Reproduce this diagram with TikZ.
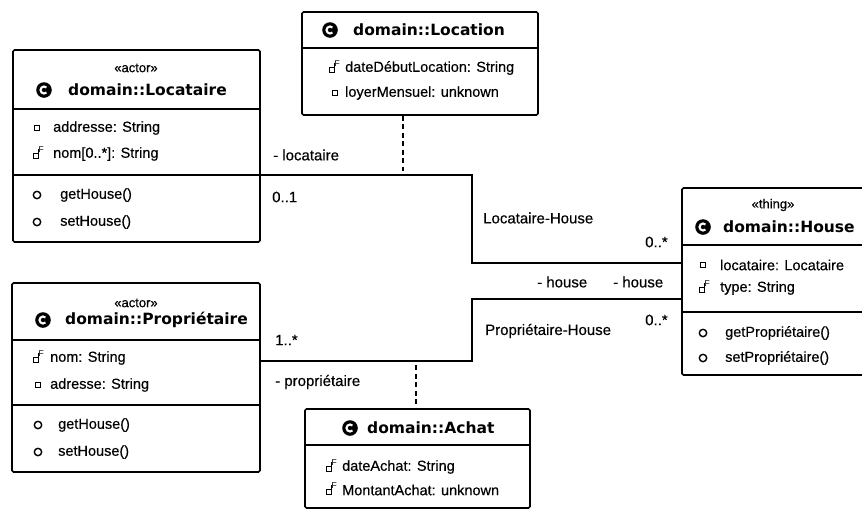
\documentclass[tikz,border=0pt]{standalone}
\usepackage{fontspec}
\setmainfont{Liberation Sans}
\newfontface\bodyface{Liberation Sans}[FakeBold=0.4]
\newfontfamily\titlefont{DejaVu Sans}
\usetikzlibrary{fit}

\newcommand{\bodysize}{\bodyface\fontsize{14.5}{16}\selectfont}
\newcommand{\lblsize}{\bodyface\fontsize{15}{17}\selectfont}

\tikzset{
  classbox/.style={draw, line width=1.6pt, rounded corners=1.5pt, inner sep=0pt},
  sepline/.style={line width=1.2pt},
  body/.style={anchor=west, inner sep=0pt, font=\bodysize},
  ctitle/.style={anchor=west, inner sep=0pt, font=\titlefont\bfseries\fontsize{15.5}{18}\selectfont},
  stereo/.style={inner sep=0pt, font=\bodyface\fontsize{13}{14}\selectfont},
  lbl/.style={anchor=west, inner sep=0pt, font=\lblsize},
  assoc/.style={line width=1.4pt},
  assocdash/.style={line width=1.8pt, dash pattern=on 5pt off 3.5pt},
  fieldpriv/.pic={\draw[line width=1pt] (-2.7,-2.7) rectangle (2.7,2.7);},
  fieldfinal/.pic={
    \draw[line width=1pt] (-4,-1) rectangle (1,4);
    \draw[line width=1pt] (1,-1) -- (1,-5);
    \node[inner sep=0pt, font=\fontsize{8.5}{9}\selectfont] at (4.3,-4) {F};},
  methodpub/.pic={\draw[line width=1.4pt] (0,0) circle (3.7);},
  classicon/.pic={
    \fill (0,0) circle (7.8);
    \draw[white, line width=2.1pt] (45:3.5) arc (45:315:3.5);},
}

\begin{document}
\begin{tikzpicture}[x=1pt, y=-1pt]
\useasboundingbox (0,0) rectangle (862,512);
\clip (0,0) rectangle (862,512);

% ---------- class boxes ----------
\node[classbox, fit={(13,50) (260,242)}] (locataire) {};
\node[classbox, fit={(302,12) (538,115)}] (location) {};
\node[classbox, fit={(682,188) (864,375)}] (house) {};
\node[classbox, fit={(12,283) (260,472)}] (proprietaire) {};
\node[classbox, fit={(305,409) (530,508)}] (achat) {};

% compartment separators
\draw[sepline] (locataire.west |- 0,109) -- (locataire.east |- 0,109);
\draw[sepline] (locataire.west |- 0,175) -- (locataire.east |- 0,175);
\draw[sepline] (location.west |- 0,48) -- (location.east |- 0,48);
\draw[sepline] (house.west |- 0,245) -- (house.east |- 0,245);
\draw[sepline] (house.west |- 0,312) -- (house.east |- 0,312);
\draw[sepline] (proprietaire.west |- 0,340) -- (proprietaire.east |- 0,340);
\draw[sepline] (proprietaire.west |- 0,405) -- (proprietaire.east |- 0,405);
\draw[sepline] (achat.west |- 0,445) -- (achat.east |- 0,445);

% ---------- Locataire ----------
\node[stereo] (locSt) at (136,68) {«actor»};
\pic at (44,90) {classicon};
\node[ctitle] (locT) at (68,90) {domain::Locataire};
\pic at (37,128) {fieldpriv};
\node[body] (locA1) at (53,128) {addresse: String};
\pic at (37,154) {fieldfinal};
\node[body] (locA2) at (53,154) {nom[0..*]: String};
\pic at (37,195) {methodpub};
\node[body] (locM1) at (60,195) {getHouse()};
\pic at (37,222) {methodpub};
\node[body] (locM2) at (60,222) {setHouse()};

% ---------- Location ----------
\pic at (330,30) {classicon};
\node[ctitle] (locnT) at (353,30) {domain::Location};
\pic at (333,68) {fieldfinal};
\node[body] (locnA1) at (345,68) {dateDébutLocation: String};
\pic at (335,93) {fieldpriv};
\node[body] (locnA2) at (345,93) {loyerMensuel: unknown};

% ---------- House ----------
\node[stereo] (houseSt) at (773,205) {«thing»};
\pic at (703,227) {classicon};
\node[ctitle] (houseT) at (723,227) {domain::House};
\pic at (703,265) {fieldpriv};
\node[body] (houseA1) at (720,265) {locataire: Locataire};
\pic at (703,288) {fieldfinal};
\node[body] (houseA2) at (720,288) {type: String};
\pic at (703,333) {methodpub};
\node[body] (houseM1) at (725,333) {getPropriétaire()};
\pic at (703,358) {methodpub};
\node[body] (houseM2) at (725,358) {setPropriétaire()};

% ---------- Propriétaire ----------
\node[stereo] (propSt) at (136,303) {«actor»};
\pic at (43,320) {classicon};
\node[ctitle] (propT) at (65,320) {domain::Propriétaire};
\pic at (37,358) {fieldfinal};
\node[body] (propA1) at (50,358) {nom: String};
\pic at (38,385) {fieldpriv};
\node[body] (propA2) at (50,385) {adresse: String};
\pic at (38,425) {methodpub};
\node[body] (propM1) at (58,425) {getHouse()};
\pic at (38,452) {methodpub};
\node[body] (propM2) at (58,452) {setHouse()};

% ---------- Achat ----------
\pic at (350,428) {classicon};
\node[ctitle] (achatT) at (367,428) {domain::Achat};
\pic at (330,467) {fieldfinal};
\node[body] (achatA1) at (342,467) {dateAchat: String};
\pic at (330,490) {fieldfinal};
\node[body] (achatA2) at (342,490) {MontantAchat: unknown};

% ---------- associations ----------
\coordinate (lhmid) at (403,175);
\coordinate (ahmid) at (416,361);
\draw[assoc] (locataire.east |- 0,175) -- (472,175) -- (472,263) -- (house.west |- 0,263);
\draw[assoc] (house.west |- 0,299) -- (472,299) -- (472,361) -- (proprietaire.east |- 0,361);
\draw[assocdash] (location.south -| lhmid) -- ([yshift=4pt]lhmid);
\draw[assocdash] ([yshift=-4pt]ahmid) -- (achat.north -| ahmid);

% association labels
\node[lbl] (lRoleLoc) at (273,155) {- locataire};
\node[lbl] (lMulLoc) at (272,197) {0..1};
\node[lbl] (lNameLH) at (483,218) {Locataire-House};
\node[lbl] (lMulH1) at (645,242) {0..*};
\node[lbl] (lRoleH1) at (537,282) {- house};
\node[lbl] (lRoleH2) at (613,282) {- house};
\node[lbl] (lMulH2) at (645,320) {0..*};
\node[lbl] (lNamePH) at (485,331) {Propriétaire-House};
\node[lbl] (lMulProp) at (275,340) {1..*};
\node[lbl] (lRoleProp) at (275,382) {- propriétaire};
\end{tikzpicture}
\end{document}
